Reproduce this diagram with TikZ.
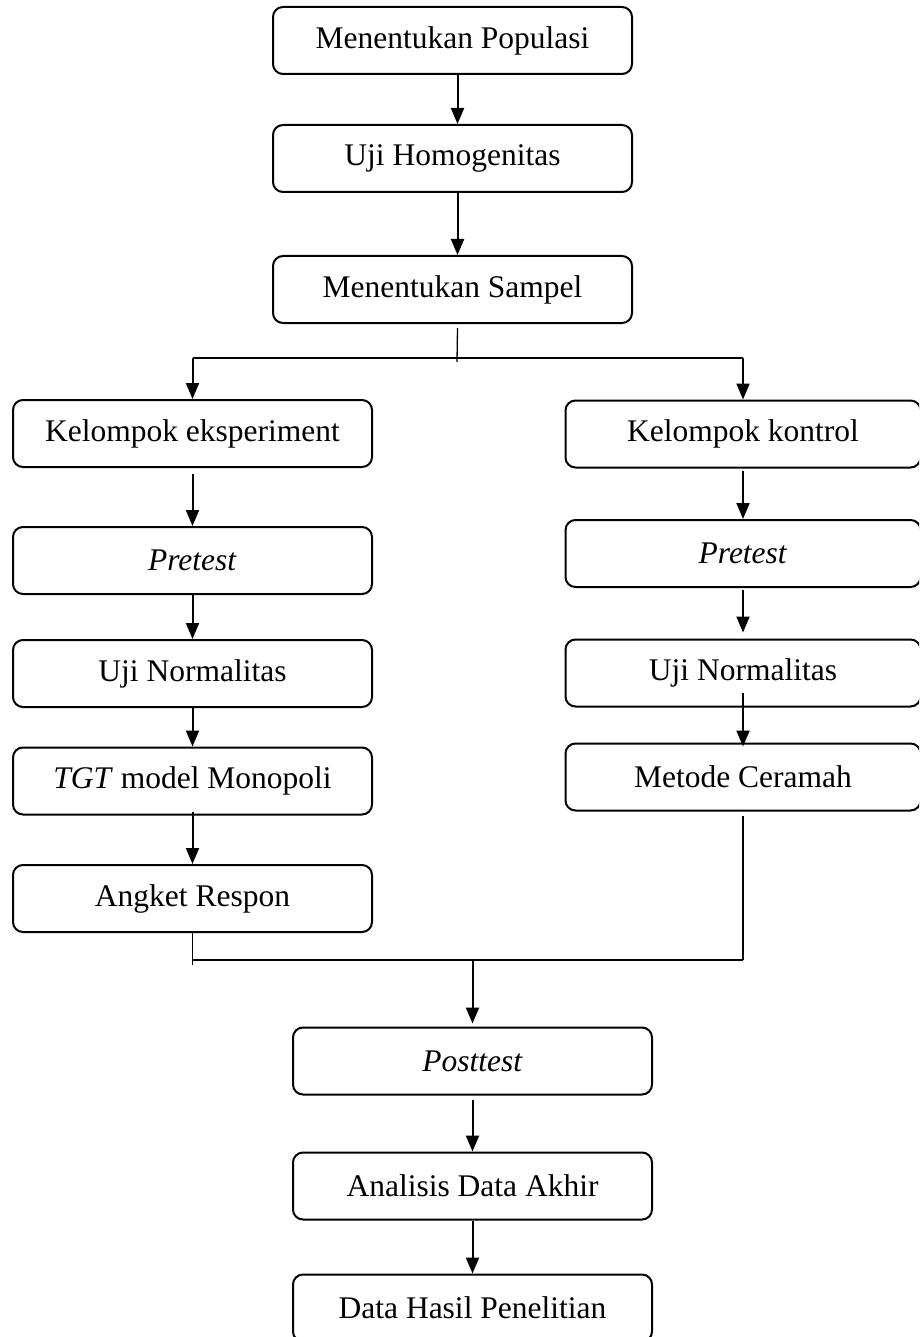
\documentclass[tikz,border=0pt]{standalone}
\usepackage{fontspec}
\setmainfont{Liberation Serif}
\usepackage{tikz}
\usetikzlibrary{arrows.meta,calc}

\begin{document}
\begin{tikzpicture}[x=1pt, y=1pt,
  box/.style={draw, line width=2pt, rounded corners=10pt, minimum width=359pt, minimum height=67pt, inner sep=0pt},
  boxR/.style={box, minimum width=355pt},
  arr/.style={-{Triangle[length=16pt,width=13pt]}, line width=2pt},
  thinline/.style={line width=1.3pt},
  font=\fontsize{31.5}{38}\selectfont]
\useasboundingbox (0,0) rectangle (919,-1337);
\clip (0,0) rectangle (919,-1337);
% top chain
\node[box] (pop)    at (452.5,-40.5)  {Menentukan Populasi};
\node[box] (homo)   at (452.5,-158.5) {Uji Homogenitas};
\node[box] (sampel) at (452.5,-289.5) {Menentukan Sampel};
\draw[arr] ([xshift=5pt]pop.south) -- ([xshift=5pt]homo.north);
\draw[arr] ([xshift=5pt]homo.south) -- ([xshift=5pt]sampel.north);
% kelompok eksperimen
\node[box] (eks)    at (192.5,-433.5) {Kelompok eksperiment};
\node[box] (pre1)   at (192.5,-560.5) {\textit{Pretest}};
\node[box] (norm1)  at (192.5,-673.5) {Uji Normalitas};
\node[box] (tgt)    at (192.5,-781)   {\textit{TGT} model Monopoli};
\node[box] (angket) at (192.5,-898.5) {Angket Respon};
% kelompok kontrol
\node[boxR] (kon)     at (743,-434)   {Kelompok kontrol};
\node[boxR] (pre2)    at (743,-553.5) {\textit{Pretest}};
\node[boxR] (norm2)   at (743,-673)   {Uji Normalitas};
\node[boxR] (ceramah) at (743,-777)   {Metode Ceramah};
% akhir
\node[box] (post)  at (472.5,-1061) {\textit{Posttest}};
\node[box] (akhir) at (472.5,-1186) {Analisis Data Akhir};
\node[box] (hasil) at (472.5,-1308) {Data Hasil Penelitian};
% branch
\coordinate (split) at (457,-358);
\coordinate (join)  at (472.5,-960);
\draw[thinline] ([xshift=5pt,yshift=-4pt]sampel.south) -- ([yshift=-4pt]split);
\draw[line width=2pt] (eks.north |- split) -- (kon.north |- split);
\draw[arr] (eks.north |- split) -- (eks.north);
\draw[arr] (kon.north |- split) -- (kon.north);
% arrows left
\draw[arr, shorten <=6pt] (eks) -- (pre1);
\draw[arr] (pre1) -- (norm1);
\draw[arr] (norm1) -- (tgt);
\draw[arr, shorten <=-4pt] (tgt) -- (angket);
% arrows right
\draw[arr, shorten <=2pt] (kon) -- (pre2);
\draw[arr, shorten <=2pt, shorten >=6pt] (pre2) -- (norm2);
\draw[arr, shorten <=-15pt, shorten >=-4pt] (norm2) -- (ceramah);
% join
\draw[thinline] ([yshift=-4pt]ceramah.south) -- (ceramah.south |- join);
\draw[thinline] (angket.south) -- ([yshift=-5pt]angket.south |- join);
\draw[thinline] (angket.south |- join) -- (ceramah.south |- join);
\draw[arr] (join) -- ([yshift=3pt]post.north);
\draw[arr, shorten <=4pt] (post) -- (akhir);
\draw[arr] (akhir) -- (hasil);
\end{tikzpicture}
\end{document}
